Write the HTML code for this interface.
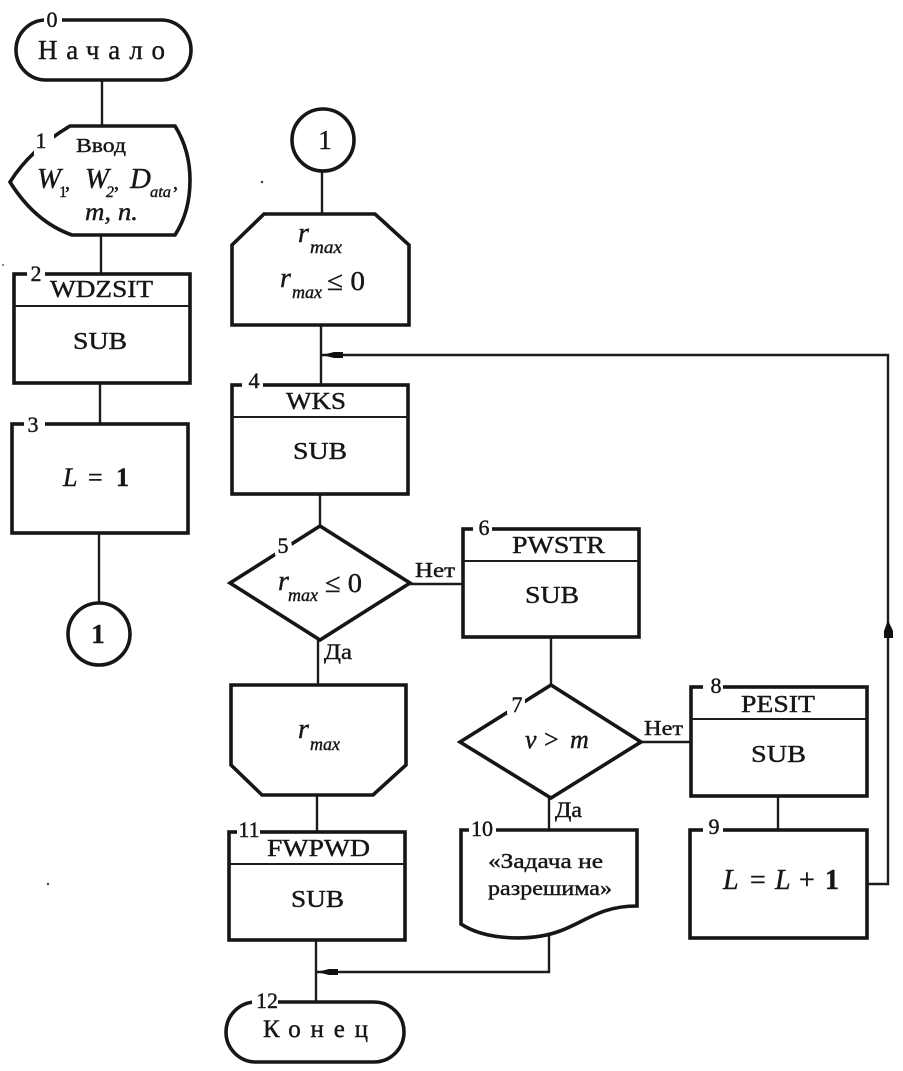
<!DOCTYPE html>
<html><head><meta charset="utf-8"><style>
html,body{margin:0;padding:0;background:#fff}
svg{display:block;filter:blur(.35px)}
text{font-family:"Liberation Serif","Noto Serif CJK SC",serif;fill:#161616;stroke:#161616;stroke-width:.4}
.i{font-style:italic}
.s{fill:#fff;stroke:#161616;stroke-width:3.6}
.l{fill:none;stroke:#1c1c1c;stroke-width:2.4}
.d{stroke:#1c1c1c;stroke-width:2}
.g{fill:#fff;stroke:none}
.n{font-size:22px;text-anchor:middle}
</style></head><body>
<svg width="903" height="1071" viewBox="0 0 903 1071" xmlns="http://www.w3.org/2000/svg">
<rect width="903" height="1071" fill="#fff"/>
<!-- connectors -->
<path class="l" d="M102 80V126M101 235V274M100 383V424M99 533V604"/>
<path class="l" d="M322 171V214M321 325V386M320 494V527M318 640V685M317 795V832M316 940V1003"/>
<path class="l" d="M410 584H463M551 637V686M549 798V830M641 742H691M778 796V830"/>
<path class="l" d="M868 884H888V355H322"/>
<path class="l" d="M549 935V972H316"/>
<path d="M322 355L334 352H343V358H334Z" fill="#111"/>
<path d="M317 972L329 969H338V975H329Z" fill="#111"/>
<path d="M888 620L893 631V638H884V631Z" fill="#111"/>
<!-- node 0 -->
<rect class="s" x="16" y="20" width="175" height="60" rx="30"/>
<rect class="g" x="44" y="12" width="18" height="16"/>
<text class="n" x="52" y="27">0</text>
<text x="38" y="59" font-size="27" textLength="127" lengthAdjust="spacing">Начало</text>
<!-- node 1 -->
<path class="s" d="M70 126H175Q190 150 190 180Q190 212 175 235H72Q35 222 10 182Q30 150 70 126Z"/>
<rect class="g" x="34" y="133" width="20" height="22"/>
<text class="n" x="41" y="148">1</text>
<text x="76" y="152" font-size="20" textLength="50" lengthAdjust="spacingAndGlyphs">Ввод</text>
<text class="i" x="37" y="188" font-size="29" textLength="24" lengthAdjust="spacingAndGlyphs">W</text><text x="59" y="197" font-size="16">1</text><text x="65" y="189" font-size="20">,</text>
<text class="i" x="85" y="188" font-size="29" textLength="24" lengthAdjust="spacingAndGlyphs">W</text><text class="i" x="106" y="197" font-size="16">2</text><text x="114" y="189" font-size="20">,</text>
<text class="i" x="130" y="188" font-size="29">D</text><text class="i" x="150" y="197" font-size="16" textLength="21" lengthAdjust="spacingAndGlyphs">ata</text><text x="173" y="189" font-size="20">,</text>
<text class="i" x="85" y="220" font-size="25" textLength="53" lengthAdjust="spacingAndGlyphs">m, n.</text>
<!-- node 2 -->
<rect class="s" x="14" y="274" width="176" height="109"/><line class="d" x1="14" y1="306" x2="190" y2="306"/>
<rect class="g" x="27" y="266" width="18" height="15"/>
<text class="n" x="36" y="281">2</text>
<text x="50" y="297" font-size="24" textLength="103" lengthAdjust="spacingAndGlyphs">WDZSIT</text>
<text x="73" y="349" font-size="24" textLength="54" lengthAdjust="spacingAndGlyphs">SUB</text>
<!-- node 3 -->
<rect class="s" x="12" y="424" width="176" height="109"/>
<rect class="g" x="24" y="414" width="21" height="16"/>
<text class="n" x="33" y="432">3</text>
<text class="i" x="63" y="486" font-size="26">L</text><text x="88" y="486" font-size="26">=</text><text x="116" y="486" font-size="26" font-weight="bold">1</text>
<!-- connectors 1 -->
<circle class="s" cx="99" cy="634" r="31"/>
<text x="98" y="643" font-size="27" text-anchor="middle" font-weight="bold">1</text>
<circle class="s" cx="323" cy="140" r="31"/>
<text x="325" y="149" font-size="27" text-anchor="middle">1</text>
<!-- r max top -->
<path class="s" d="M232 245L264 214H375L409 245V325H232Z"/>
<text class="i" x="298" y="242" font-size="28">r</text><text class="i" x="310" y="253" font-size="18" textLength="32" lengthAdjust="spacingAndGlyphs">max</text>
<text class="i" x="280" y="287" font-size="28">r</text><text class="i" x="292" y="298" font-size="18" textLength="30" lengthAdjust="spacingAndGlyphs">max</text>
<text x="327" y="290" font-size="27" textLength="38" lengthAdjust="spacingAndGlyphs">≤ 0</text>
<!-- node 4 -->
<rect class="s" x="232" y="385" width="176" height="109"/><line class="d" x1="232" y1="417" x2="408" y2="417"/>
<rect class="g" x="242" y="376" width="21" height="15"/>
<text class="n" x="254" y="388">4</text>
<text x="286" y="409" font-size="24" textLength="60" lengthAdjust="spacingAndGlyphs">WKS</text>
<text x="293" y="459" font-size="24" textLength="54" lengthAdjust="spacingAndGlyphs">SUB</text>
<!-- node 5 -->
<path class="s" d="M230 583L320 526L410 583L320 640Z"/>
<rect class="g" x="274" y="536" width="18" height="22" transform="rotate(-10 283 547)"/>
<text class="n" x="283" y="553">5</text>
<text class="i" x="278" y="590" font-size="28">r</text><text class="i" x="288" y="601" font-size="18" textLength="30" lengthAdjust="spacingAndGlyphs">max</text>
<text x="325" y="592" font-size="27" textLength="37" lengthAdjust="spacingAndGlyphs">≤ 0</text>
<text x="415" y="577" font-size="21" textLength="40" lengthAdjust="spacingAndGlyphs">Нет</text>
<text x="324" y="659" font-size="22" textLength="28" lengthAdjust="spacingAndGlyphs">Да</text>
<!-- node 6 -->
<rect class="s" x="463" y="529" width="176" height="108"/><line class="d" x1="463" y1="561" x2="639" y2="561"/>
<rect class="g" x="473" y="520" width="19" height="15"/>
<text class="n" x="484" y="535">6</text>
<text x="512" y="553" font-size="24" textLength="93" lengthAdjust="spacingAndGlyphs">PWSTR</text>
<text x="525" y="603" font-size="24" textLength="54" lengthAdjust="spacingAndGlyphs">SUB</text>
<!-- r max lower -->
<path class="s" d="M231 685H406V765L373 795H262L231 765Z"/>
<text class="i" x="298" y="738" font-size="28">r</text><text class="i" x="310" y="750" font-size="18" textLength="30" lengthAdjust="spacingAndGlyphs">max</text>
<!-- node 7 -->
<path class="s" d="M460 742L551 685L641 742L551 798Z"/>
<rect class="g" x="507" y="694" width="18" height="20"/>
<text class="n" x="517" y="712">7</text>
<text class="i" x="525" y="748" font-size="26">v</text><text x="544" y="748" font-size="26">&gt;</text><text class="i" x="570" y="748" font-size="26">m</text>
<text x="644" y="735" font-size="21" textLength="39" lengthAdjust="spacingAndGlyphs">Нет</text>
<text x="555" y="817" font-size="22" textLength="27" lengthAdjust="spacingAndGlyphs">Да</text>
<!-- node 8 -->
<rect class="s" x="691" y="687" width="176" height="109"/><line class="d" x1="691" y1="719" x2="867" y2="719"/>
<rect class="g" x="703" y="678" width="20" height="15"/>
<text class="n" x="716" y="693">8</text>
<text x="741" y="712" font-size="24" textLength="74" lengthAdjust="spacingAndGlyphs">PESIT</text>
<text x="751" y="762" font-size="24" textLength="55" lengthAdjust="spacingAndGlyphs">SUB</text>
<!-- node 9 -->
<rect class="s" x="690" y="830" width="177" height="108"/>
<rect class="g" x="703" y="820" width="20" height="16"/>
<text class="n" x="714" y="834">9</text>
<text class="i" x="723" y="889" font-size="28">L</text><text x="750" y="889" font-size="28">=</text><text class="i" x="775" y="889" font-size="28">L</text><text x="799" y="889" font-size="28">+</text><text x="825" y="889" font-size="28" font-weight="bold">1</text>
<!-- node 10 -->
<path class="s" d="M461 830H637V906C600 906 585 922 560 931C530 942 485 940 461 924Z"/>
<rect class="g" x="469" y="820" width="27" height="16"/>
<text class="n" x="482" y="836">10</text>
<text x="488" y="868" font-size="21" textLength="115" lengthAdjust="spacingAndGlyphs">«Задача  не</text>
<text x="488" y="895" font-size="21" textLength="124" lengthAdjust="spacingAndGlyphs">разрешима»</text>
<!-- node 11 -->
<rect class="s" x="229" y="832" width="176" height="108"/><line class="d" x1="229" y1="864" x2="405" y2="864"/>
<rect class="g" x="237" y="822" width="23" height="16"/>
<text class="n" x="249" y="837">11</text>
<text x="267" y="856" font-size="24" textLength="103" lengthAdjust="spacingAndGlyphs">FWPWD</text>
<text x="291" y="907" font-size="24" textLength="53" lengthAdjust="spacingAndGlyphs">SUB</text>
<!-- node 12 -->
<rect class="s" x="226" y="1002" width="178" height="60" rx="30"/>
<rect class="g" x="252" y="994" width="26" height="16"/>
<text class="n" x="267" y="1008">12</text>
<text x="263" y="1037" font-size="25" textLength="105" lengthAdjust="spacing">Конец</text>
<!-- specks -->
<circle cx="262" cy="182" r="1.2" fill="#333"/><circle cx="48" cy="884" r="1.2" fill="#444"/><circle cx="3" cy="265" r="1" fill="#666"/>
</svg>
</body></html>
